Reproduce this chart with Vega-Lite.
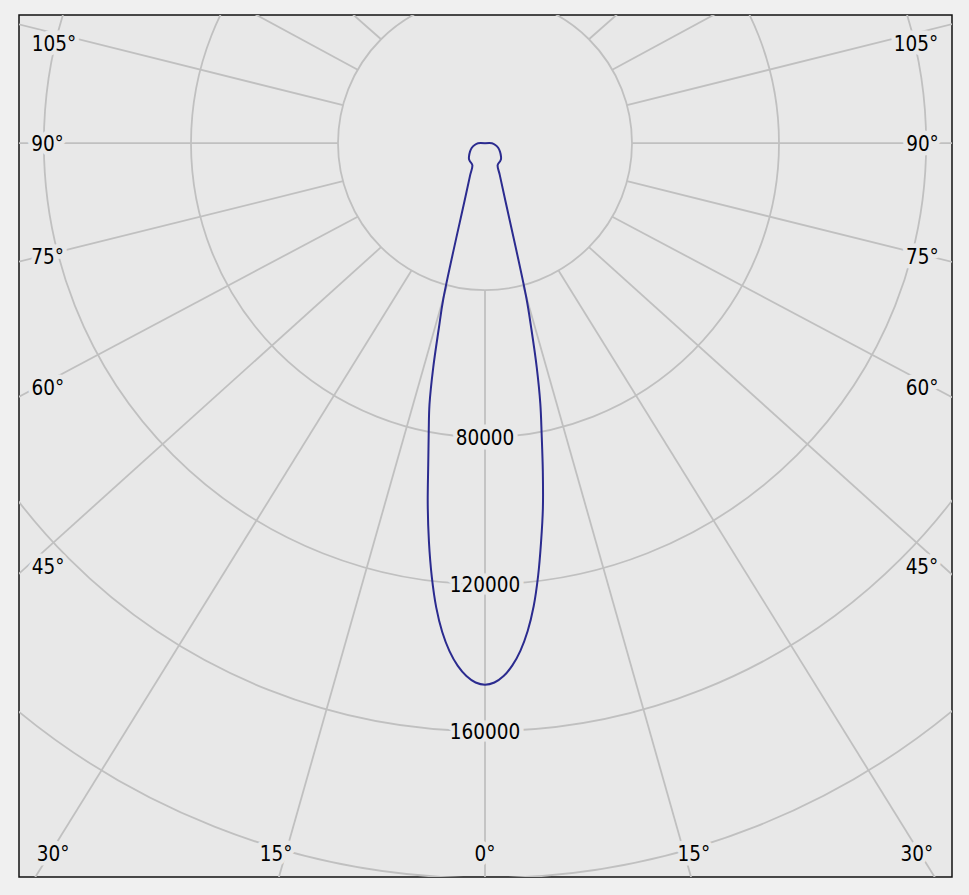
{
  "$schema": "https://vega.github.io/schema/vega-lite/v6.json",
  "width": 933,
  "height": 862,
  "autosize": {"type": "none"},
  "padding": {"left": 19, "top": 15, "right": 17, "bottom": 18},
  "background": "#f0f0f0",
  "config": {"view": {"fill": "#e8e8e8", "stroke": "#111111", "strokeWidth": 1.5}},
  "datasets": {
    "rings": [{"v": 40000}, {"v": 80000}, {"v": 120000}, {"v": 160000}, {"v": 200000}],
    "spokes": [
      {"a": -135, "r0": 40000, "ea": -134.13, "er": 52950},
      {"a": -120, "r0": 40000, "ea": -119.26, "er": 74420},
      {"a": -105, "r0": 40000, "ea": -104.29, "er": 135400},
      {"a": -90, "r0": 40000, "ea": -90, "er": 133330},
      {"a": -75, "r0": 40000, "ea": -75.75, "er": 135370},
      {"a": -60, "r0": 40000, "ea": -61.47, "er": 149550},
      {"a": -45, "r0": 40000, "ea": -47.3, "er": 179260},
      {"a": -30, "r0": 40000, "ea": -31.51, "er": 243780},
      {"a": -15, "r0": 40000, "ea": -15.69, "er": 215680},
      {"a": 0, "r0": 40000, "ea": 0, "er": 201360},
      {"a": 15, "r0": 40000, "ea": 15.69, "er": 215680},
      {"a": 30, "r0": 40000, "ea": 31.51, "er": 243780},
      {"a": 45, "r0": 40000, "ea": 47.3, "er": 179260},
      {"a": 60, "r0": 40000, "ea": 61.47, "er": 149550},
      {"a": 75, "r0": 40000, "ea": 75.75, "er": 135370},
      {"a": 90, "r0": 40000, "ea": 90, "er": 133330},
      {"a": 105, "r0": 40000, "ea": 104.29, "er": 135400},
      {"a": 120, "r0": 40000, "ea": 119.26, "er": 74420},
      {"a": 135, "r0": 40000, "ea": 134.13, "er": 52950}
    ],
    "curve": [
      {"a": -180, "cd": 0}, {"a": -150, "cd": 0}, {"a": -120, "cd": 0}, {"a": -100, "cd": 0},
      {"a": -90, "cd": 1900}, {"a": -80, "cd": 2860}, {"a": -70, "cd": 3860}, {"a": -60, "cd": 4730},
      {"a": -50, "cd": 5690}, {"a": -45, "cd": 6150}, {"a": -40, "cd": 6390}, {"a": -30, "cd": 6880},
      {"a": -25, "cd": 9520}, {"a": -20, "cd": 15590}, {"a": -15, "cd": 43810}, {"a": -14, "cd": 51970},
      {"a": -13, "cd": 62590}, {"a": -12, "cd": 72650}, {"a": -11, "cd": 80270}, {"a": -10, "cd": 88980},
      {"a": -9, "cd": 99590}, {"a": -8, "cd": 109580}, {"a": -7, "cd": 118830}, {"a": -6, "cd": 127000},
      {"a": -5, "cd": 133520}, {"a": -4, "cd": 138560}, {"a": -3, "cd": 142370}, {"a": -2, "cd": 145090},
      {"a": -1, "cd": 146780}, {"a": 0, "cd": 147350}, {"a": 1, "cd": 146780}, {"a": 2, "cd": 145090},
      {"a": 3, "cd": 142300}, {"a": 4, "cd": 138400}, {"a": 5, "cd": 133250}, {"a": 6, "cd": 126700},
      {"a": 7, "cd": 118600}, {"a": 8, "cd": 109600}, {"a": 9, "cd": 100680}, {"a": 10, "cd": 90610},
      {"a": 11, "cd": 80820}, {"a": 12, "cd": 72380}, {"a": 13, "cd": 62590}, {"a": 14, "cd": 52250},
      {"a": 15, "cd": 43270}, {"a": 20, "cd": 15520}, {"a": 25, "cd": 9500}, {"a": 30, "cd": 6880},
      {"a": 40, "cd": 6390}, {"a": 45, "cd": 6150}, {"a": 50, "cd": 5690}, {"a": 60, "cd": 4730},
      {"a": 70, "cd": 3860}, {"a": 80, "cd": 2860}, {"a": 90, "cd": 1900}, {"a": 100, "cd": 0},
      {"a": 120, "cd": 0}, {"a": 150, "cd": 0}, {"a": 180, "cd": 0}
    ],
    "labels": [
      {"t": "105°", "la": -103.13, "lr": 120430},
      {"t": "90°", "la": -90, "lr": 119050},
      {"t": "75°", "la": -75.58, "lr": 122910},
      {"t": "60°", "la": -60.88, "lr": 136130},
      {"t": "45°", "la": -45.96, "lr": 165410},
      {"t": "30°", "la": -31.33, "lr": 226040},
      {"t": "15°", "la": -16.41, "lr": 201260},
      {"t": "0°", "la": 0, "lr": 193060},
      {"t": "15°", "la": 16.41, "lr": 201260},
      {"t": "30°", "la": 31.33, "lr": 226040},
      {"t": "45°", "la": 45.96, "lr": 165410},
      {"t": "60°", "la": 60.88, "lr": 136130},
      {"t": "75°", "la": 75.58, "lr": 122910},
      {"t": "90°", "la": 90, "lr": 119050},
      {"t": "105°", "la": 103.13, "lr": 120430},
      {"t": "80000", "la": 0, "lr": 80000},
      {"t": "120000", "la": 0, "lr": 120000},
      {"t": "160000", "la": 0, "lr": 160000}
    ]
  },
  "layer": [
    {
      "data": {"name": "rings"},
      "mark": {"type": "arc", "theta": 0, "theta2": 6.2832, "filled": false, "stroke": "#c0c0c0", "strokeWidth": 1.8, "clip": true},
      "encoding": {
        "x": {"datum": 0, "type": "quantitative", "scale": {"domain": [-126803, 127076], "nice": false, "zero": false}, "axis": null},
        "y": {"datum": 0, "type": "quantitative", "scale": {"domain": [-199675, 34884], "nice": false, "zero": false}, "axis": null},
        "radius": {"field": "v", "type": "quantitative", "stack": null, "scale": {"type": "linear", "domain": [0, 272110], "range": [0, 1000], "zero": true}, "legend": null}
      }
    },
    {
      "data": {"name": "spokes"},
      "transform": [
        {"calculate": "datum.r0 * sin(datum.a * PI / 180)", "as": "sx"},
        {"calculate": "-datum.r0 * cos(datum.a * PI / 180)", "as": "sy"},
        {"calculate": "datum.er * sin(datum.ea * PI / 180)", "as": "ex"},
        {"calculate": "-datum.er * cos(datum.ea * PI / 180)", "as": "ey"}
      ],
      "mark": {"type": "rule", "stroke": "#c0c0c0", "strokeWidth": 1.8, "clip": true},
      "encoding": {
        "x": {"field": "sx", "type": "quantitative", "axis": null},
        "y": {"field": "sy", "type": "quantitative", "axis": null},
        "x2": {"field": "ex"},
        "y2": {"field": "ey"}
      }
    },
    {
      "data": {"name": "curve"},
      "transform": [
        {"calculate": "datum.cd * sin(datum.a * PI / 180)", "as": "px"},
        {"calculate": "-datum.cd * cos(datum.a * PI / 180)", "as": "py"}
      ],
      "mark": {"type": "line", "stroke": "#2b2b8f", "strokeWidth": 2, "interpolate": "catmull-rom", "clip": true},
      "encoding": {
        "x": {"field": "px", "type": "quantitative", "axis": null},
        "y": {"field": "py", "type": "quantitative", "axis": null},
        "order": {"field": "a", "type": "quantitative"}
      }
    },
    {
      "data": {"name": "labels"},
      "transform": [
        {"calculate": "datum.lr * sin(datum.la * PI / 180)", "as": "tx"},
        {"calculate": "-datum.lr * cos(datum.la * PI / 180)", "as": "ty"}
      ],
      "mark": {"type": "text", "font": "DejaVu Sans Condensed, Liberation Sans", "fontSize": 20.5, "align": "center", "baseline": "middle", "dy": 2, "fill": "#e8e8e8", "stroke": "#e8e8e8", "strokeWidth": 9, "strokeJoin": "round"},
      "encoding": {
        "x": {"field": "tx", "type": "quantitative", "axis": null},
        "y": {"field": "ty", "type": "quantitative", "axis": null},
        "text": {"field": "t"}
      }
    },
    {
      "data": {"name": "labels"},
      "transform": [
        {"calculate": "datum.lr * sin(datum.la * PI / 180)", "as": "tx"},
        {"calculate": "-datum.lr * cos(datum.la * PI / 180)", "as": "ty"}
      ],
      "mark": {"type": "text", "font": "DejaVu Sans Condensed, Liberation Sans", "fontSize": 20.5, "align": "center", "baseline": "middle", "dy": 2, "fill": "#000000"},
      "encoding": {
        "x": {"field": "tx", "type": "quantitative", "axis": null},
        "y": {"field": "ty", "type": "quantitative", "axis": null},
        "text": {"field": "t"}
      }
    }
  ]
}
